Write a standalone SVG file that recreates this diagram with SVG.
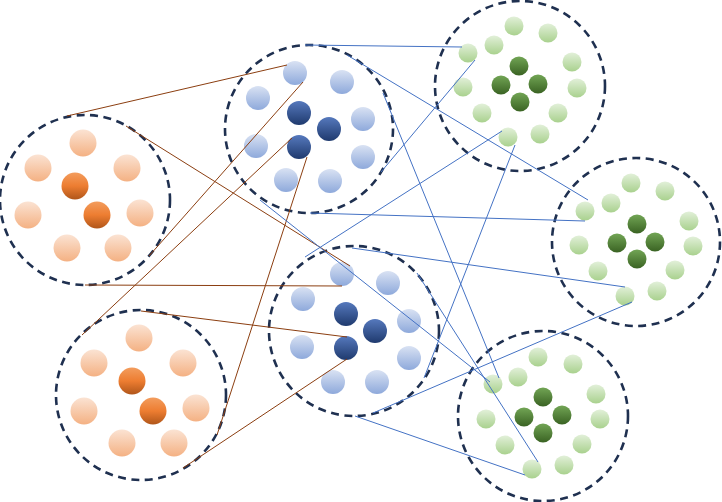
<svg xmlns="http://www.w3.org/2000/svg" width="722" height="502" viewBox="0 0 722 502">
<defs>
<linearGradient id="gOL" x1="0" y1="0" x2="0" y2="1"><stop offset="0" stop-color="#FBE3D3"/><stop offset="1" stop-color="#F4B183"/></linearGradient>
<linearGradient id="gOD" x1="0" y1="0" x2="0" y2="1"><stop offset="0" stop-color="#F39D5E"/><stop offset="0.5" stop-color="#ED7D31"/><stop offset="1" stop-color="#B0561A"/></linearGradient>
<linearGradient id="gBL" x1="0" y1="0" x2="0" y2="1"><stop offset="0" stop-color="#D9E2F3"/><stop offset="1" stop-color="#8EA9DB"/></linearGradient>
<linearGradient id="gBD" x1="0" y1="0" x2="0" y2="1"><stop offset="0" stop-color="#5679BD"/><stop offset="1" stop-color="#1F3A6E"/></linearGradient>
<linearGradient id="gGL" x1="0" y1="0" x2="0" y2="1"><stop offset="0" stop-color="#E2F0D9"/><stop offset="1" stop-color="#A9D18E"/></linearGradient>
<linearGradient id="gGD" x1="0" y1="0" x2="0" y2="1"><stop offset="0" stop-color="#72A555"/><stop offset="1" stop-color="#3A6323"/></linearGradient>
</defs>
<style>
.ring{fill:none;stroke:#1F3050;stroke-width:2.6;stroke-dasharray:8 5.5}
.ol{fill:url(#gOL)}.od{fill:url(#gOD)}
.bl{fill:url(#gBL)}.bd{fill:url(#gBD)}
.gl{fill:url(#gGL)}.gd{fill:url(#gGD)}
.br{stroke:#8B3E10;stroke-width:1;fill:none}
.bu{stroke:#4472C4;stroke-width:1;fill:none}
</style>
<rect width="722" height="502" fill="#FFFFFF"/>
<g id="orange1">
<circle class="ring" cx="85" cy="200" r="85"/>
<g class="ol"><circle cx="83" cy="143" r="13.5"/><circle cx="38" cy="168" r="13.5"/><circle cx="127" cy="168" r="13.5"/><circle cx="28" cy="215" r="13.5"/><circle cx="140" cy="213" r="13.5"/><circle cx="67" cy="248" r="13.5"/><circle cx="118" cy="248" r="13.5"/></g>
<g class="od"><circle cx="75" cy="186" r="13.5"/><circle cx="97" cy="215" r="13.5"/></g>
</g>
<g id="orange2">
<circle class="ring" cx="141" cy="395" r="85"/>
<g class="ol"><circle cx="139" cy="338" r="13.5"/><circle cx="94" cy="363" r="13.5"/><circle cx="183" cy="363" r="13.5"/><circle cx="84" cy="411" r="13.5"/><circle cx="196" cy="408" r="13.5"/><circle cx="122" cy="443" r="13.5"/><circle cx="174" cy="443" r="13.5"/></g>
<g class="od"><circle cx="132" cy="381" r="13.5"/><circle cx="153" cy="411" r="13.5"/></g>
</g>
<g id="blue1">
<circle class="ring" cx="309" cy="129" r="84"/>
<g class="bl"><circle cx="295" cy="73" r="12"/><circle cx="342" cy="82" r="12"/><circle cx="258" cy="98" r="12"/><circle cx="363" cy="119" r="12"/><circle cx="256" cy="146" r="12"/><circle cx="363" cy="157" r="12"/><circle cx="286" cy="180" r="12"/><circle cx="330" cy="181" r="12"/></g>
<g class="bd"><circle cx="299" cy="113" r="12"/><circle cx="329" cy="129" r="12"/><circle cx="299" cy="147" r="12"/></g>
</g>
<g id="blue2">
<circle class="ring" cx="354" cy="331" r="85"/>
<g class="bl"><circle cx="342" cy="274" r="12"/><circle cx="388" cy="283" r="12"/><circle cx="303" cy="299" r="12"/><circle cx="409" cy="321" r="12"/><circle cx="302" cy="347" r="12"/><circle cx="409" cy="358" r="12"/><circle cx="333" cy="382" r="12"/><circle cx="377" cy="382" r="12"/></g>
<g class="bd"><circle cx="346" cy="314" r="12"/><circle cx="375" cy="331" r="12"/><circle cx="346" cy="348" r="12"/></g>
</g>
<g id="green1">
<circle class="ring" cx="520" cy="86" r="85"/>
<g class="gl"><circle cx="514" cy="26" r="9.5"/><circle cx="548" cy="33" r="9.5"/><circle cx="494" cy="45" r="9.5"/><circle cx="468" cy="53" r="9.5"/><circle cx="572" cy="62" r="9.5"/><circle cx="463" cy="87" r="9.5"/><circle cx="577" cy="88" r="9.5"/><circle cx="482" cy="113" r="9.5"/><circle cx="558" cy="113" r="9.5"/><circle cx="508" cy="137" r="9.5"/><circle cx="540" cy="134" r="9.5"/></g>
<g class="gd"><circle cx="519" cy="66" r="9.5"/><circle cx="501" cy="85" r="9.5"/><circle cx="538" cy="84" r="9.5"/><circle cx="520" cy="102" r="9.5"/></g>
</g>
<g id="green2">
<circle class="ring" cx="636" cy="242" r="84"/>
<g class="gl"><circle cx="631" cy="183" r="9.5"/><circle cx="665" cy="191" r="9.5"/><circle cx="611" cy="203" r="9.5"/><circle cx="585" cy="211" r="9.5"/><circle cx="689" cy="221" r="9.5"/><circle cx="579" cy="245" r="9.5"/><circle cx="693" cy="246" r="9.5"/><circle cx="598" cy="271" r="9.5"/><circle cx="675" cy="270" r="9.5"/><circle cx="625" cy="296" r="9.5"/><circle cx="657" cy="291" r="9.5"/></g>
<g class="gd"><circle cx="637" cy="224" r="9.5"/><circle cx="617" cy="243" r="9.5"/><circle cx="655" cy="242" r="9.5"/><circle cx="637" cy="259" r="9.5"/></g>
</g>
<g id="green3">
<circle class="ring" cx="543" cy="416" r="85"/>
<g class="gl"><circle cx="538" cy="357" r="9.5"/><circle cx="573" cy="364" r="9.5"/><circle cx="518" cy="377" r="9.5"/><circle cx="493" cy="384" r="9.5"/><circle cx="596" cy="394" r="9.5"/><circle cx="486" cy="419" r="9.5"/><circle cx="600" cy="419" r="9.5"/><circle cx="505" cy="445" r="9.5"/><circle cx="582" cy="444" r="9.5"/><circle cx="532" cy="469" r="9.5"/><circle cx="564" cy="465" r="9.5"/></g>
<g class="gd"><circle cx="543" cy="397" r="9.5"/><circle cx="524" cy="417" r="9.5"/><circle cx="562" cy="415" r="9.5"/><circle cx="543" cy="433" r="9.5"/></g>
</g>
<g id="connectors">
<g class="br">
<line x1="67" y1="116" x2="287" y2="65"/>
<line x1="126" y1="126" x2="350" y2="266"/>
<line x1="85" y1="285" x2="342" y2="286"/>
<line x1="149" y1="256" x2="303" y2="82"/>
<line x1="82" y1="335" x2="292" y2="138"/>
<line x1="307" y1="157" x2="217" y2="435"/>
<line x1="183" y1="468" x2="347" y2="359"/>
<line x1="141" y1="311" x2="347" y2="337"/>
</g>
<g class="bu">
<line x1="305" y1="45" x2="462" y2="47"/>
<line x1="347" y1="55" x2="588" y2="200"/>
<line x1="383" y1="93" x2="499" y2="378"/>
<line x1="475" y1="60" x2="381" y2="172"/>
<line x1="310" y1="213" x2="585" y2="221"/>
<line x1="260" y1="200" x2="490" y2="382"/>
<line x1="305" y1="257" x2="502" y2="131"/>
<line x1="515" y1="145" x2="424" y2="378"/>
<line x1="352" y1="248" x2="625" y2="287"/>
<line x1="373" y1="413" x2="632" y2="302"/>
<line x1="417" y1="273" x2="538" y2="462"/>
<line x1="355" y1="416" x2="525" y2="475"/>
</g>
</g>
</svg>
